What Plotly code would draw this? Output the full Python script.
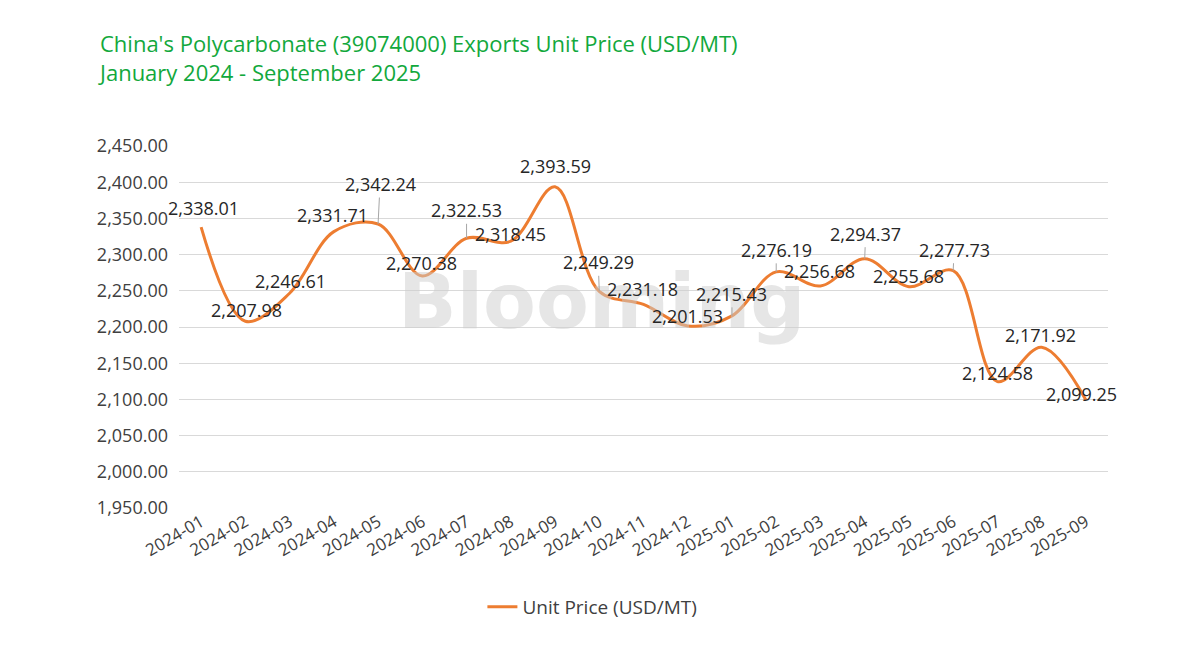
import plotly.graph_objects as go

months = ["2024-01", "2024-02", "2024-03", "2024-04", "2024-05", "2024-06", "2024-07",
          "2024-08", "2024-09", "2024-10", "2024-11", "2024-12", "2025-01", "2025-02",
          "2025-03", "2025-04", "2025-05", "2025-06", "2025-07", "2025-08", "2025-09"]
unit_price = [2338.01, 2207.98, 2246.61, 2331.71, 2342.24, 2270.38, 2322.53,
              2318.45, 2393.59, 2249.29, 2231.18, 2201.53, 2215.43, 2276.19,
              2256.68, 2294.37, 2255.68, 2277.73, 2124.58, 2171.92, 2099.25]
y_ticks = [1950, 2000, 2050, 2100, 2150, 2200, 2250, 2300, 2350, 2400, 2450]

# label placement style (pixel offsets from the point, and whether a leader line is drawn)
label_dx = [2, 1, 1, -1, 2, -1, 0, 0, 0, -1, -1, 0, 0, 0, -1, 1, 0, 1, 0, -1, -4]
label_dy = [-19, -11, -12, -17, -40, -13, -28, -7, -21, -29, -15, -10, -22, -22, -15, -25, -11, -21, -9, -12, -6]
label_leader = [False, False, False, False, True, False, True, False, False, True, False, False,
                True, True, False, True, False, True, False, False, False]

ORANGE = "#ED7D31"
GREEN = "#12A83C"
TXT = "#404040"
FONT = "'Open Sans', Lato, sans-serif"

fig = go.Figure()
fig.add_trace(go.Scatter(
    x=months, y=unit_price, mode="lines", name="Unit Price (USD/MT)",
    line=dict(color=ORANGE, width=3, shape="spline", smoothing=1.0),
    hoverinfo="x+y",
))

annotations = []
# watermark
annotations.append(dict(
    text="<b>Blooming</b>", xref="paper", yref="paper", x=0.455, y=0.57,
    xanchor="center", yanchor="middle", showarrow=False,
    font=dict(family="'DejaVu Sans', sans-serif", size=77, color="rgba(205,205,205,0.5)"),
))
for m, v, dx, dy, lead in zip(months, unit_price, label_dx, label_dy, label_leader):
    txt = f"{v:,.2f}"
    if lead:
        annotations.append(dict(
            x=m, y=v, xref="x", yref="y", text=txt, showarrow=True,
            ax=dx, ay=dy, arrowhead=0, arrowwidth=1, arrowcolor="#A6A6A6", standoff=0,
            font=dict(family=FONT, size=18, color="#262626"),
        ))
    else:
        annotations.append(dict(
            x=m, y=v, xref="x", yref="y", text=txt, showarrow=False,
            xshift=dx, yshift=-dy,
            font=dict(family=FONT, size=18, color="#262626"),
        ))

fig.update_layout(
    width=1200, height=649,
    margin=dict(l=179, r=92, t=146, b=141),
    paper_bgcolor="white", plot_bgcolor="white",
    font=dict(family=FONT, color=TXT),
    title=dict(
        text="China's Polycarbonate (39074000) Exports Unit Price (USD/MT)<br>January 2024 - September 2025",
        x=100 / 1200, xanchor="left", xref="container",
        y=1 - 52 / 649, yanchor="top", yref="container",
        font=dict(family=FONT, size=22, color=GREEN),
    ),
    xaxis=dict(
        type="category", range=[-0.5, 20.5], tickangle=-30,
        tickfont=dict(family=FONT, size=17, color=TXT),
        showgrid=False, showline=False, ticks="", zeroline=False,
    ),
    yaxis=dict(
        range=[1950, 2450], tickvals=y_ticks, tickformat=",.2f",
        tickfont=dict(family=FONT, size=18, color=TXT),
        showgrid=True, gridcolor="#D9D9D9", gridwidth=1,
        showline=False, ticks="", zeroline=False, ticklabelstandoff=10,
    ),
    legend=dict(
        orientation="h", x=0.445, xanchor="center", y=-0.273, yanchor="middle",
        font=dict(family=FONT, size=19, color=TXT),
    ),
    showlegend=True,
    annotations=annotations,
)

fig.write_html("out.html")
